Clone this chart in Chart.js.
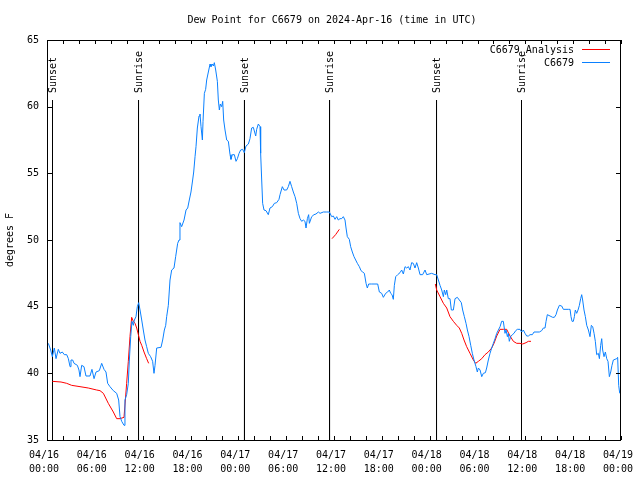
<!DOCTYPE html>
<html>
<head>
<meta charset="utf-8">
<script src="https://cdn.jsdelivr.net/npm/chart.js@4.4.1/dist/chart.umd.min.js"></script>
<style>
html,body{margin:0;padding:0;background:#fff;}
#wrap{width:640px;height:480px;}
</style>
</head>
<body>
<div id="wrap"><canvas id="c" width="640" height="480"></canvas></div>
<script>
// ---- data (hours since 2024-04-16 00:00 UTC) ----
const chartTitle = 'Dew Point for C6679 on 2024-Apr-16 (time in UTC)';
const yAxisTitle = 'degrees F';
const seriesNames = ['C6679_Analysis', 'C6679'];

const xTickDates = ['04/16','04/16','04/16','04/16','04/17','04/17','04/17','04/17','04/18','04/18','04/18','04/18','04/19'];
const xTickTimes = ['00:00','06:00','12:00','18:00','00:00','06:00','12:00','18:00','00:00','06:00','12:00','18:00','00:00'];
const yTickValues = [35, 40, 45, 50, 55, 60, 65];

const sunHours  = [0.69, 11.48, 24.77, 35.44, 48.86, 59.52];
const sunLabels = ['Sunset','Sunrise','Sunset','Sunrise','Sunset','Sunrise'];

const blueHours = [
 0.17,0.46,0.67,0.92,1.13,1.42,1.63,1.92,2.17,2.47,2.68,2.89,3.01,3.22,3.39,3.81,4.01,4.14,4.35,4.64,
 4.89,5.39,5.64,5.90,6.15,6.56,6.86,7.15,7.40,7.61,7.90,8.32,8.74,8.99,9.16,9.37,9.66,9.78,9.99,10.20,
 10.33,10.50,10.66,10.83,10.96,11.16,11.33,11.50,11.67,11.88,12.08,12.29,12.50,12.71,13.00,13.25,13.42,13.55,13.76,14.30,
 14.51,14.72,14.89,15.01,15.22,15.43,15.64,15.93,16.14,16.39,16.56,16.68,16.89,17.19,17.44,17.65,17.85,18.06,18.27,18.40,
 18.57,18.69,18.86,19.07,19.19,19.32,19.49,19.57,19.74,19.90,20.03,20.24,20.45,20.57,20.74,20.87,20.99,21.16,21.37,21.49,
 21.62,21.74,21.91,22.04,22.16,22.33,22.54,22.75,22.96,23.08,23.25,23.50,23.71,23.88,24.09,24.29,24.54,24.75,24.96,25.26,
 25.46,25.67,25.88,26.18,26.30,26.51,26.72,26.80,26.93,27.05,27.22,27.47,27.76,27.97,28.27,28.52,28.81,29.10,29.23,29.52,
 29.73,30.06,30.27,30.48,30.69,30.90,31.11,31.32,31.53,31.74,31.95,32.15,32.36,32.49,32.66,32.82,32.91,33.20,33.49,33.74,
 34.04,34.25,34.66,35.08,35.42,35.71,35.92,36.13,36.34,36.54,36.75,36.96,37.17,37.38,37.51,37.67,37.92,38.09,38.30,38.51,
 38.72,38.93,39.18,39.39,39.60,39.81,40.02,40.18,40.35,40.73,41.14,41.48,41.69,41.98,42.19,42.48,42.73,42.94,43.11,43.28,
 43.44,43.57,43.74,43.99,44.28,44.49,44.70,44.91,45.12,45.33,45.53,45.74,45.95,46.16,46.37,46.58,46.79,47.12,47.42,47.63,
 48.25,48.67,48.88,49.09,49.30,49.51,49.72,49.84,50.01,50.14,50.34,50.55,50.72,50.97,51.18,51.47,51.72,51.97,52.14,52.35,
 52.56,52.73,52.94,53.15,53.35,53.56,53.81,53.98,54.11,54.32,54.53,54.73,54.99,55.15,55.36,55.57,55.78,55.99,56.20,56.41,
 56.62,56.83,57.03,57.24,57.45,57.58,57.75,57.87,57.99,58.16,58.37,58.58,58.79,59.00,59.33,59.54,59.75,59.96,60.17,60.38,
 60.59,60.88,61.09,61.34,61.76,62.05,62.26,62.47,62.60,62.76,63.10,63.43,63.64,63.85,64.02,64.27,64.56,64.77,65.10,65.40,
 65.61,65.73,65.86,66.02,66.15,66.27,66.44,66.61,66.78,66.94,67.07,67.19,67.36,67.53,67.70,67.91,68.11,68.28,68.45,68.62,
 68.78,68.95,69.16,69.29,69.45,69.58,69.70,69.87,70.04,70.21,70.37,70.54,70.71,70.87,71.04,71.25,71.46,71.58,71.71,71.84
];
const blueValues = [
 42.25,41.75,41.25,41.9,41.1,41.8,41.5,41.6,41.4,41.4,41.1,40.5,41.0,41.0,40.75,40.6,40.25,39.75,40.6,40.5,
 39.8,39.8,40.3,39.6,40.1,40.2,40.75,40.3,40.1,39.25,39.0,38.7,38.5,38.0,36.75,36.4,36.1,38.0,38.4,39.25,
 41.0,42.75,43.9,43.6,44.0,44.25,45.0,45.3,44.75,44.0,43.25,42.5,42.0,41.5,41.25,40.9,40.0,40.6,41.9,41.95,
 42.5,43.25,43.6,44.25,45.1,47.0,47.75,47.9,48.75,49.75,50.0,51.3,51.0,51.5,52.25,52.4,53.0,53.6,54.5,55.1,
 56.25,57.0,58.4,59.3,59.45,58.5,57.5,58.9,61.0,61.3,62.0,62.6,63.2,63.0,63.2,63.05,63.3,62.75,61.9,60.5,
 59.75,60.2,60.0,60.4,59.0,58.25,57.5,57.4,56.4,56.05,56.4,56.4,55.9,56.1,56.5,56.75,56.8,56.55,57.05,57.2,
 57.6,58.4,58.45,57.8,58.3,58.7,58.5,56.5,54.5,52.75,52.25,52.2,51.9,52.4,52.5,52.75,52.8,53.05,53.4,54.0,
 53.75,53.75,54.0,54.4,54.0,53.6,53.25,52.75,52.0,51.6,51.4,51.5,51.4,50.9,51.6,51.9,51.25,51.75,51.9,51.95,
 52.1,52.0,52.1,52.1,52.1,51.75,51.8,51.55,51.75,51.5,51.6,51.6,51.75,51.5,50.9,50.25,50.05,49.5,49.1,48.75,
 48.5,48.25,48.0,47.7,47.6,47.5,46.75,46.4,46.7,46.7,46.7,46.7,46.1,46.0,45.7,46.0,46.1,46.25,46.0,45.9,
 45.55,46.6,47.25,47.4,47.55,47.75,47.45,48.0,47.9,48.0,47.75,48.3,48.25,47.9,48.3,47.9,47.4,47.4,47.75,47.4,
 47.5,47.4,47.4,47.0,46.6,46.25,45.75,46.25,45.9,46.25,45.6,45.6,44.75,44.75,45.6,45.7,45.5,45.3,44.75,44.25,
 43.75,43.25,42.75,42.1,41.5,41.0,40.5,40.1,40.4,40.25,39.75,40.0,40.05,40.4,41.0,41.5,41.9,42.25,42.6,43.0,
 43.25,43.5,43.9,43.9,43.0,43.25,42.75,43.0,42.4,42.75,42.9,43.0,43.2,43.3,43.3,43.1,43.25,43.0,42.8,42.8,
 42.9,42.9,43.1,43.1,43.1,43.2,43.4,43.4,43.9,44.4,44.3,44.2,44.2,44.4,44.75,45.1,45.05,44.8,44.8,44.8,
 44.8,44.25,43.9,43.9,44.25,44.75,44.5,44.75,45.1,45.6,45.9,45.5,44.75,44.25,43.6,43.25,42.75,43.6,43.5,43.0,
 42.4,41.4,41.5,41.1,42.1,42.6,41.75,41.25,41.6,41.1,40.9,39.75,40.1,40.6,41.0,41.05,41.1,41.2,39.1,38.5
];

// red analysis series: null marks a gap
const redHours = [
 0.67,1.76,2.47,3.09,4.14,5.18,6.23,6.65,7.07,7.69,8.32,8.74,9.16,9.66,9.83,9.99,10.20,10.41,10.62,10.83,
 11.04,11.25,11.46,11.67,11.88,12.17,12.50,12.75,13.0,
 35.75,36.20,36.67,37.0,
 48.71,48.88,49.30,49.72,50.14,50.55,50.97,51.39,51.72,52.02,52.31,52.64,53.06,53.48,53.77,54.11,54.53,54.94,
 55.36,55.78,56.07,56.41,56.83,57.24,57.66,58.08,58.50,58.92,59.33,59.67,60.09,60.38,60.71
];
const redValues = [
 39.4,39.35,39.25,39.1,39.0,38.9,38.75,38.7,38.5,37.75,37.1,36.6,36.6,36.7,38.0,39.25,40.9,42.75,44.2,43.9,
 43.75,43.4,42.9,42.4,42.1,41.6,41.1,40.75,null,
 50.1,50.4,50.8,null,
 46.7,46.25,45.75,45.25,44.9,44.25,43.9,43.6,43.4,43.0,42.5,42.0,41.5,41.0,40.75,40.9,41.1,41.4,
 41.6,41.9,42.25,42.8,43.3,43.3,43.3,42.8,42.4,42.25,42.25,42.2,42.3,42.4,42.4
];

const BLUE = '#0a80ff';
const RED = '#ff0000';
const FONT = '"DejaVu Sans Mono", "Liberation Mono", monospace';

const toXY = (xs, ys) => xs.map((x, i) => ({x: x, y: ys[i]}));
const sunPoints = [];
sunHours.forEach(h => { sunPoints.push({x: h, y: 60.5}, {x: h, y: 35}, {x: h, y: null}); });

const overlay = {
  id: 'overlay',
  afterDraw(chart) {
    const ctx = chart.ctx;
    const xs = chart.scales.x, ys = chart.scales.y;
    const a = chart.chartArea;
    ctx.save();
    // frame
    ctx.strokeStyle = '#000';
    ctx.lineWidth = 1;
    ctx.strokeRect(Math.round(a.left) + 0.5, Math.round(a.top) + 0.5,
                   Math.round(a.right - a.left) - 1, Math.round(a.bottom - a.top));
    // x ticks every 2 hours, inward on bottom and top
    ctx.beginPath();
    for (let h = 0; h <= 72; h += 2) {
      const px = Math.round(xs.getPixelForValue(h)) + 0.5;
      ctx.moveTo(px, a.bottom); ctx.lineTo(px, a.bottom - 4);
      ctx.moveTo(px, a.top); ctx.lineTo(px, a.top + 4);
    }
    // y ticks, inward on left and right
    yTickValues.forEach(v => {
      const py = Math.round(ys.getPixelForValue(v)) + 0.5;
      ctx.moveTo(a.left, py); ctx.lineTo(a.left + 5, py);
      ctx.moveTo(a.right, py); ctx.lineTo(a.right - 5, py);
    });
    ctx.stroke();

    ctx.fillStyle = '#000';
    ctx.font = '10px ' + FONT;
    // title
    ctx.textAlign = 'center';
    ctx.textBaseline = 'middle';
    ctx.fillText(chartTitle, 332, 20);
    // y axis title
    ctx.save();
    ctx.translate(10, 240);
    ctx.rotate(-Math.PI / 2);
    ctx.fillText(yAxisTitle, 0, 0);
    ctx.restore();
    // sunrise / sunset labels
    sunHours.forEach((h, i) => {
      const px = xs.getPixelForValue(h);
      ctx.save();
      ctx.translate(px + 1, ys.getPixelForValue(60.5) - 7);
      ctx.rotate(-Math.PI / 2);
      ctx.textAlign = 'left';
      ctx.textBaseline = 'middle';
      ctx.fillText(sunLabels[i], 0, 0);
      ctx.restore();
    });
    // legend
    ctx.textAlign = 'right';
    ctx.textBaseline = 'middle';
    ctx.fillText(seriesNames[0], 574, 50);
    ctx.fillText(seriesNames[1], 574, 63);
    ctx.lineWidth = 1;
    ctx.strokeStyle = RED;
    ctx.beginPath(); ctx.moveTo(582, 49.5); ctx.lineTo(610, 49.5); ctx.stroke();
    ctx.strokeStyle = BLUE;
    ctx.beginPath(); ctx.moveTo(582, 62.5); ctx.lineTo(610, 62.5); ctx.stroke();
    ctx.restore();
  }
};

new Chart(document.getElementById('c'), {
  type: 'line',
  data: {
    datasets: [
      { label: seriesNames[1], data: toXY(blueHours, blueValues), borderColor: BLUE, borderWidth: 1,
        pointRadius: 0, tension: 0, fill: false, spanGaps: false },
      { label: seriesNames[0], data: toXY(redHours, redValues), borderColor: RED, borderWidth: 1,
        pointRadius: 0, tension: 0, fill: false, spanGaps: false },
      { label: 'sun', data: sunPoints, borderColor: '#000', borderWidth: 1,
        pointRadius: 0, tension: 0, fill: false, spanGaps: false }
    ]
  },
  options: {
    responsive: false,
    animation: false,
    devicePixelRatio: 1,
    layout: { padding: { left: 0, right: 19, top: 40, bottom: 0 } },
    plugins: { legend: { display: false }, title: { display: false }, tooltip: { enabled: false } },
    scales: {
      x: {
        type: 'linear', min: 0, max: 72,
        grid: { display: false, drawTicks: false },
        border: { display: false },
        afterFit(s) { s.height = 40; s.paddingLeft = 0; s.paddingRight = 0; },
        afterBuildTicks(s) { s.ticks = xTickDates.map((d, i) => ({ value: i * 6 })); },
        ticks: {
          autoSkip: false, maxRotation: 0, padding: 8, labelOffset: -3,
          color: '#000', font: { family: FONT, size: 10, lineHeight: 1.4 },
          callback: (v, i) => [xTickDates[i], xTickTimes[i]]
        }
      },
      y: {
        type: 'linear', min: 35, max: 65,
        grid: { display: false, drawTicks: false },
        border: { display: false },
        afterFit(s) { s.width = 47; s.paddingTop = 0; s.paddingBottom = 0; },
        afterBuildTicks(s) { s.ticks = yTickValues.map(v => ({ value: v })); },
        ticks: { padding: 8, color: '#000', font: { family: FONT, size: 10 } }
      }
    }
  },
  plugins: [overlay]
});
</script>
</body>
</html>
